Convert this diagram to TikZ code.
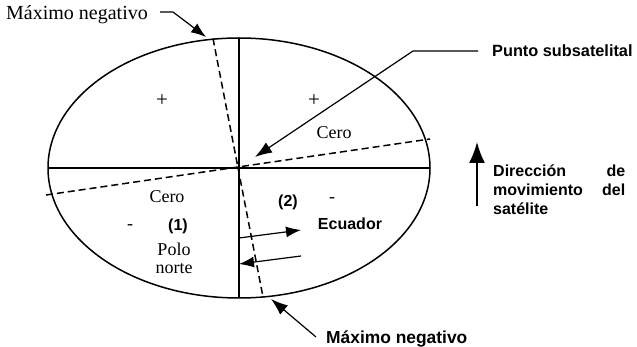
\documentclass[tikz,border=0pt]{standalone}
\usepackage{fontspec}
\setmainfont{Liberation Serif}
\setsansfont{Liberation Sans}
\usetikzlibrary{arrows.meta}
\begin{document}
\begin{tikzpicture}[x=1pt,y=-1pt,
  line/.style={line width=1.5pt},
  dline/.style={line width=1.5pt,dash pattern=on 7pt off 4pt},
  arr/.style={line width=1.2pt,-{Latex[length=15pt,width=11pt]}},
  serif/.style={font=\fontsize{18}{18}\selectfont},
  plus/.style={font=\fontsize{21}{21}\selectfont},
  sansb/.style={font=\fontsize{16}{19}\selectfont\sffamily\bfseries},
  every node/.style={inner sep=0pt}]
\useasboundingbox (0,0) rectangle (637,347);
% ellipse and lines
\draw[line] (239,168) ellipse [x radius=191, y radius=130];
\coordinate (L) at (48,168);
\coordinate (R) at (430,168);
\coordinate (T) at (239,38);
\coordinate (B) at (239,298);
\coordinate (dT) at (213,38.5);
\coordinate (dB) at (263,297);
\coordinate (dL) at (46,195);
\coordinate (dR) at (430,139);
\draw[line] (L) -- (R);
\draw[line] (T) -- (B);
\draw[dline] (dT) -- (dB);
\draw[dline] (dL) -- (dR);
% labels inside
\node[plus] (p1) at (162,101) {+};
\node[plus] (p2) at (314,101) {+};
\node[serif] (c1) at (334,133) {Cero};
\node[serif] (c2) at (167,197) {Cero};
\node[serif] (m1) at (130,227) {-};
\node[sansb] (n1) at (178,226) {(1)};
\node[serif,align=center] (polo) at (174,258) {Polo\\norte};
\node[sansb] (n2) at (288,202) {(2)};
\node[serif] (m2) at (332,200) {-};
\node[sansb] (ec) at (350,224) {Ecuador};
% equator arrows
\coordinate (a1s) at (239,238);
\coordinate (a1e) at (301,230);
\coordinate (a2s) at (301,256);
\coordinate (a2e) at (239,264);
\draw[arr] (a1s) -- (a1e);
\draw[arr] (a2s) -- (a2e);
% top label
\node[anchor=west,font=\fontsize{20}{20}\selectfont] (maxT) at (6,15) {Máximo negativo};
\coordinate (mt1) at (160,12);
\coordinate (mt2) at (173,12);
\coordinate (mt3) at (206,37);
\draw[arr] (mt1) -- (mt2) -- (mt3);
% bottom label
\node[anchor=west,font=\fontsize{17.4}{18}\selectfont\sffamily\bfseries] (maxB) at (326,339) {Máximo negativo};
\coordinate (mb1) at (316,337);
\coordinate (mb2) at (271,299);
\draw[arr,-{Latex[length=17pt,width=12pt]}] (mb1) -- (mb2);
% punto subsatelital
\node[anchor=west,font=\fontsize{16.3}{18}\selectfont\sffamily\bfseries] (ps) at (492,51) {Punto subsatelital};
\coordinate (ps1) at (478,51);
\coordinate (ps2) at (413,51);
\coordinate (ps3) at (255,157);
\draw[arr,-{Latex[length=17pt,width=12pt]}] (ps1) -- (ps2) -- (ps3);
% direction
\coordinate (d1) at (477,206);
\coordinate (d2) at (477,142);
\draw[line width=1.8pt,-{Latex[length=21pt,width=16pt]}] (d1) -- (d2);
\node[sansb,anchor=north west,text width=132pt,align=left] (dir) at (493,165)
  {Dirección\hfill de\\movimiento\hfill del\\satélite};
\end{tikzpicture}
\end{document}
